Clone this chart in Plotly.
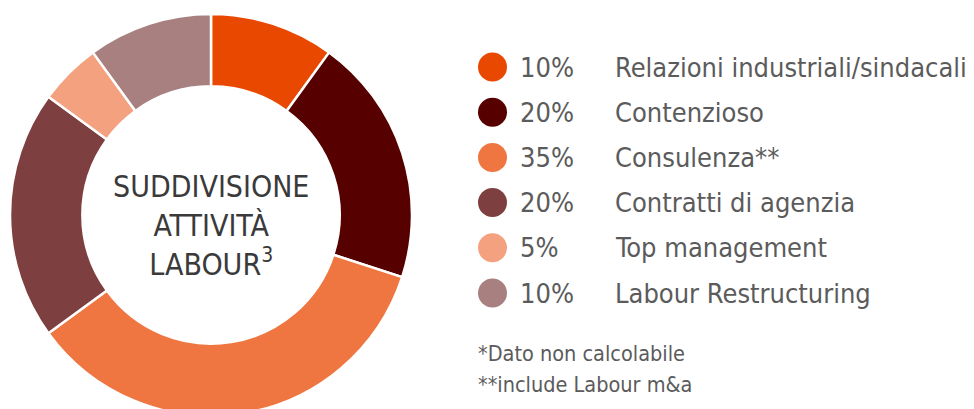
import plotly.graph_objects as go

# ---- data ----
categories = ["Relazioni industriali/sindacali", "Contenzioso", "Consulenza**",
              "Contratti di agenzia", "Top management", "Labour Restructuring"]
values = [10, 20, 35, 20, 5, 10]
pct_labels = ["10%", "20%", "35%", "20%", "5%", "10%"]
colors = ["#E94800", "#560000", "#EF7641", "#7E3F40", "#F4A17F", "#A98080"]
center_title = ["SUDDIVISIONE", "ATTIVITÀ", "LABOUR<sup>3</sup>"]
footnotes = ["*Dato non calcolabile", "**include Labour m&a"]

W, H = 974, 430
OFF = 8  # page body margin
NARROW = "DejaVu Sans Condensed, Liberation Sans Narrow, Arial Narrow, sans-serif"

fig = go.Figure()

# donut: screen box x 10..412, y 14..416
fig.add_trace(go.Pie(
    labels=categories, values=values, sort=False, direction="clockwise",
    rotation=0, hole=0.64, marker=dict(colors=colors, line=dict(color="white", width=2.5)),
    textinfo="none", hoverinfo="label+percent", showlegend=False,
    domain=dict(x=[(10 - OFF) / W, (412 - OFF) / W],
                y=[1 - (416 - OFF) / H, 1 - (14 - OFF) / H]),
))

# legend markers (axes in screen pixel units)
row_y = [67 + 45.2 * i for i in range(len(categories))]
fig.add_trace(go.Scatter(
    x=[492.5] * len(categories), y=row_y, mode="markers",
    marker=dict(size=29, color=colors, line=dict(width=0)),
    hoverinfo="skip", showlegend=False,
))

annotations = []
for y, p, c in zip(row_y, pct_labels, categories):
    annotations.append(dict(x=518, y=y, xref="x", yref="y", text=p, showarrow=False,
                            xanchor="left", yanchor="middle",
                            font=dict(family=NARROW, size=27, color="#5b5b5b")))
    annotations.append(dict(x=613, y=y, xref="x", yref="y", text=c, showarrow=False,
                            xanchor="left", yanchor="middle",
                            font=dict(family=NARROW, size=27, color="#5b5b5b")))

for i, f in enumerate(footnotes):
    annotations.append(dict(x=476, y=353 + 31 * i, xref="x", yref="y", text=f, showarrow=False,
                            xanchor="left", yanchor="middle",
                            font=dict(family=NARROW, size=21.5, color="#5b5b5b")))

annotations.append(dict(x=211, y=225, xref="x", yref="y", text="<br>".join(center_title),
                        showarrow=False, xanchor="center", yanchor="middle",
                        font=dict(family=NARROW, size=30, color="#3a3a3a")))

fig.update_layout(
    width=W, height=H, margin=dict(l=0, r=0, t=0, b=0),
    paper_bgcolor="white", plot_bgcolor="rgba(0,0,0,0)",
    xaxis=dict(range=[OFF, W + OFF], visible=False, domain=[0, 1], fixedrange=True),
    yaxis=dict(range=[H + OFF, OFF], visible=False, domain=[0, 1], fixedrange=True),
    annotations=annotations, showlegend=False,
)

fig.write_html("out.html")
